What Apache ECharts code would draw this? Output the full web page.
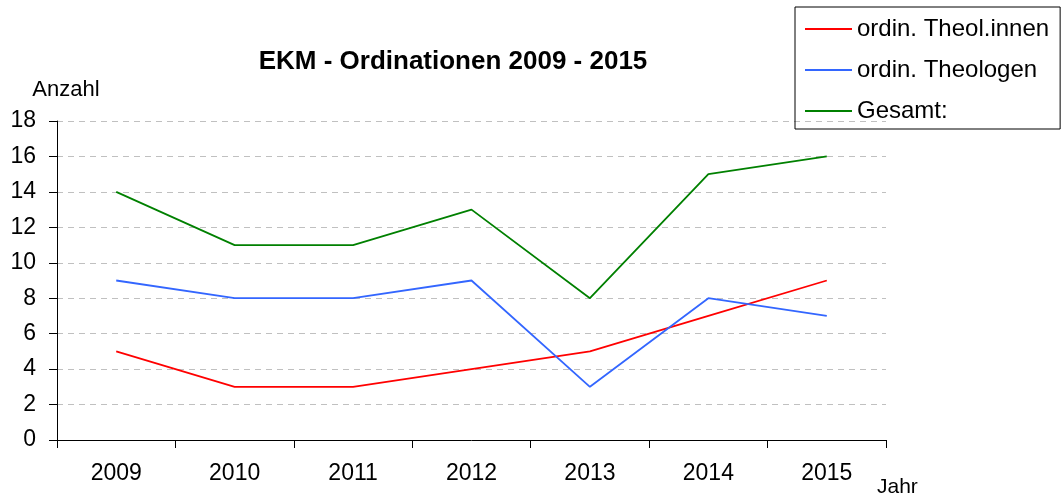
<!DOCTYPE html>
<html>
<head>
<meta charset="utf-8">
<script src="https://cdn.jsdelivr.net/npm/echarts@6/dist/echarts.min.js"></script>
<style>
html,body{margin:0;padding:0;background:#fff;}
#chart{width:1063px;height:498px;}
</style>
</head>
<body>
<div id="chart"></div>
<script>
var chart = echarts.init(document.getElementById("chart"));

var jahre = ['2009', '2010', '2011', '2012', '2013', '2014', '2015'];
var theolInnen = [5, 3, 3, 4, 5, 7, 9];
var theologen = [9, 8, 8, 9, 3, 8, 7];
var gesamt = [14, 11, 11, 13, 8, 15, 16];

var font = 'Liberation Sans, Arial, sans-serif';

var option = {
    backgroundColor: '#fff',
    animation: false,
    textStyle: {fontFamily: font},
    title: {
        text: 'EKM - Ordinationen 2009 - 2015',
        left: 448,
        textAlign: 'center',
        top: 44,
        textStyle: {fontSize: 26, fontWeight: 'bold', color: '#000', fontFamily: font}
    },
    legend: {
        orient: 'vertical',
        left: 795,
        top: 7,
        padding: [10, 11, 6, 10],
        itemGap: 17,
        itemWidth: 47,
        itemHeight: 2,
        icon: 'rect',
        borderColor: '#000',
        borderWidth: 1,
        borderRadius: 0,
        textStyle: {fontSize: 24, color: '#000', fontFamily: font},
        data: ['ordin. Theol.innen', 'ordin. Theologen', 'Gesamt:']
    },
    grid: {left: 57, right: 177, top: 121, bottom: 57},
    xAxis: {
        type: 'category',
        data: jahre,
        name: 'Jahr',
        nameLocation: 'end',
        nameGap: -9,
        nameTextStyle: {fontSize: 21, color: '#000', align: 'left', verticalAlign: 'top', padding: [37, 0, 0, 0]},
        axisLine: {lineStyle: {color: '#000', width: 1}},
        axisTick: {show: true, length: 8, lineStyle: {color: '#000'}},
        axisLabel: {fontSize: 23, color: '#000', margin: 22}
    },
    yAxis: {
        type: 'value',
        min: 0,
        max: 18,
        interval: 2,
        name: 'Anzahl',
        nameLocation: 'end',
        nameGap: 20,
        nameTextStyle: {fontSize: 22, color: '#000', align: 'center', padding: [0, 0, 0, 18]},
        axisLine: {show: true, lineStyle: {color: '#000', width: 1}},
        axisTick: {show: true, length: 8, lineStyle: {color: '#000'}},
        axisLabel: {fontSize: 23, color: '#000', margin: 21},
        splitLine: {show: true, lineStyle: {color: '#c0c0c0', type: [6, 5]}}
    },
    series: [
        {
            name: 'ordin. Theol.innen',
            type: 'line',
            data: theolInnen,
            symbol: 'none',
            color: '#ff0000',
            lineStyle: {color: '#ff0000', width: 1.8}
        },
        {
            name: 'ordin. Theologen',
            type: 'line',
            data: theologen,
            symbol: 'none',
            color: '#3366ff',
            lineStyle: {color: '#3366ff', width: 1.8}
        },
        {
            name: 'Gesamt:',
            type: 'line',
            data: gesamt,
            symbol: 'none',
            color: '#008000',
            lineStyle: {color: '#008000', width: 1.8}
        }
    ]
};

chart.setOption(option, true);
</script>
</body>
</html>
